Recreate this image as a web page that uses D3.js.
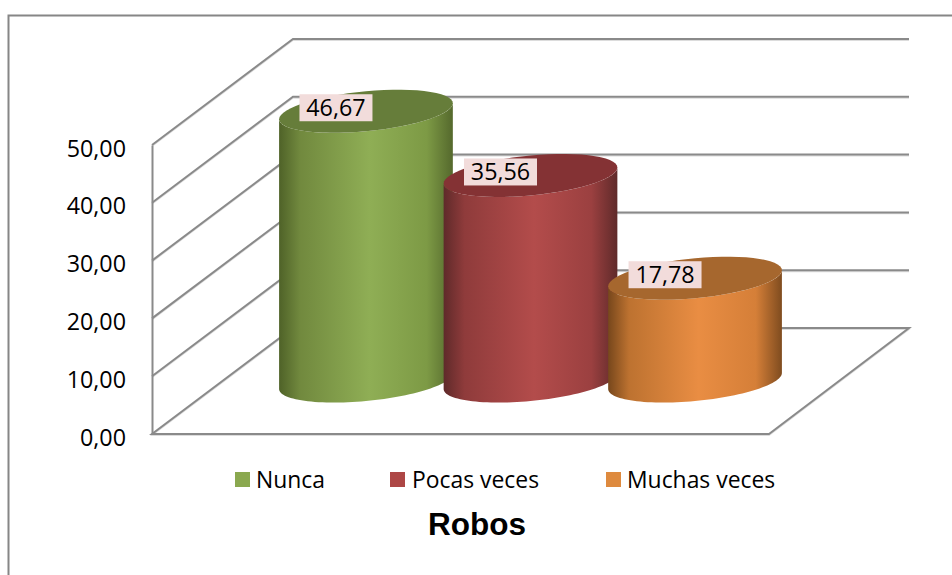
<!DOCTYPE html>
<html><head><meta charset="utf-8">
<style>html,body{margin:0;padding:0;background:#fff}svg{display:block}</style>
<script src="https://cdnjs.cloudflare.com/ajax/libs/d3/7.8.5/d3.min.js"></script>
</head><body><div id="c"></div>
<script>
const categories=["Nunca","Pocas veces","Muchas veces"];
const values=[46.67,35.56,17.78];
const valueLabels=["46,67","35,56","17,78"];
const tickValues=[0,10,20,30,40,50];
const tickLabels=["0,00","10,00","20,00","30,00","40,00","50,00"];
const chartTitle="Robos";
const topColors=["#667d3a","#843234","#a6672e"];
const gradColors=[["#4f6228","#71893e","#8fae55","#7d9a45","#55692d"],
                  ["#5f2a2a","#8f3b3b","#b34c4b","#9b4040","#5f2a2a"],
                  ["#77471c","#bd7230","#e98d43","#d57f38","#7f4c1f"]];
const swatchColors=["#8aa84f","#ad4645","#de8a3e"];
const legendX=[235,390,606];
const legendTextX=[256,412,627];
const labelFont="'Open Sans',sans-serif";

const W=952,H=575;
const svg=d3.select("#c").append("svg").attr("width",W).attr("height",H);
const y=d3.scaleLinear().domain([0,50]).range([434,145]);
const depthX=141,depthY=-106;
const frontL=152,frontR=769;
const x=d3.scaleBand().domain(categories).range([frontL+depthX/2-0.5,frontR+depthX/2-0.5]).paddingInner(0).paddingOuter(0.375);

const defs=svg.append("defs");
gradColors.forEach((g,i)=>{
  const lg=defs.append("linearGradient").attr("id","g"+i).attr("x1",0).attr("x2",1).attr("y1",0).attr("y2",0);
  [0,.12,.52,.85,1].forEach((o,j)=>lg.append("stop").attr("offset",o).attr("stop-color",g[j]));
});

// outer frame
svg.append("path").attr("d",`M8.5,${H} V15.5 H${W}`).attr("fill","none").attr("stroke","#868686").attr("stroke-width",2);

// walls
const grid=svg.append("g").attr("fill","none");
function wallLine(v){
  const p=d3.path(),yy=y(v);
  p.moveTo(frontL,yy);p.lineTo(frontL+depthX,yy+depthY);p.lineTo(909,yy+depthY);
  return p.toString();
}
function floorPath(){
  const p=d3.path(),y0=y(0);
  p.moveTo(frontL,y0);p.lineTo(frontR,y0);p.lineTo(frontR+depthX-1,y0+depthY);p.lineTo(frontL+depthX,y0+depthY);p.closePath();
  return p.toString();
}
[["#dcdcdc",1.5,1.2],["#8a8a8a",2,0]].forEach(([c,w,o])=>{
  const g=grid.append("g").attr("stroke",c).attr("stroke-width",w).attr("transform",`translate(0,${o})`);
  tickValues.slice(1).forEach(v=>g.append("path").attr("d",wallLine(v)));
  g.append("path").attr("d",floorPath());
});

// axis
const axis=d3.axisLeft(y).tickValues(tickValues).tickSize(0).tickPadding(26).tickFormat((d,i)=>tickLabels[i]);
const ax=svg.append("g").attr("transform",`translate(${frontL},0)`).call(axis);
ax.select(".domain").attr("stroke","#8a8a8a").attr("stroke-width",2);
ax.selectAll("text").attr("font-family",labelFont).attr("font-size",23.3).attr("fill","#000").attr("dy","11px");

// cylinders
const a=x.bandwidth()/2+4.6, shear=8, b=20;
const baseY=y(0)+depthY/2;
function pt(cx,cy,t){return [cx+a*Math.cos(t),cy-shear*Math.cos(t)+b*Math.sin(t)];}
const line=d3.line();
values.forEach((v,i)=>{
  const cat=categories[i];
  const cx=x(cat)+x.bandwidth()/2;
  const topY=baseY-(y(0)-y(v));
  const frontArc=(cy,from,to)=>d3.range(0,61).map(k=>pt(cx,cy,from+(to-from)*k/60));
  const body=frontArc(topY,Math.PI,0).concat(frontArc(baseY,0,Math.PI));
  svg.append("path").attr("d",line(body)+"Z").attr("fill",`url(#g${i})`);
  const ring=frontArc(topY,0,Math.PI*2);
  svg.append("path").attr("d",line(ring)+"Z").attr("fill",topColors[i]);
});
// data labels
values.forEach((v,i)=>{
  const cx=x(categories[i])+x.bandwidth()/2-30;
  const cy=baseY-(y(0)-y(v))-3.5;
  svg.append("rect").attr("x",cx-36.5).attr("y",cy-13.5).attr("width",73).attr("height",27).attr("fill","#f2dcdb");
  svg.append("text").attr("x",cx).attr("y",cy).attr("dy","8.5px").attr("text-anchor","middle")
    .attr("font-family",labelFont).attr("font-size",23.3).attr("fill","#000").text(valueLabels[i]);
});
// legend
categories.forEach((c,i)=>{
  svg.append("rect").attr("x",legendX[i]).attr("y",472).attr("width",15).attr("height",15).attr("fill",swatchColors[i]);
  svg.append("text").attr("x",legendTextX[i]).attr("y",488).attr("font-family",labelFont).attr("font-size",22.9).attr("fill","#000").text(c);
});
svg.append("text").attr("x",477).attr("y",535).attr("text-anchor","middle")
  .attr("font-family","Liberation Sans,Arial,sans-serif").attr("font-weight","bold").attr("font-size",31.5).attr("fill","#000").text(chartTitle);
</script></body></html>
